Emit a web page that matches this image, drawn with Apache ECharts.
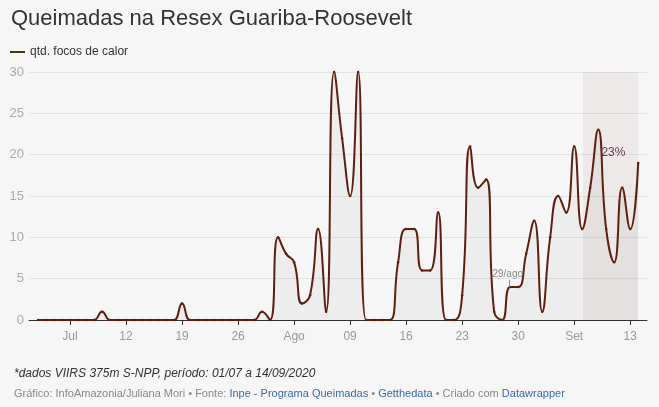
<!DOCTYPE html>
<html>
<head>
<meta charset="utf-8">
<script src="https://cdn.jsdelivr.net/npm/echarts@6/dist/echarts.min.js"></script>
<style>
  html, body { margin: 0; padding: 0; background: #f6f6f6; }
  #chart { width: 659px; height: 407px; }
</style>
</head>
<body>
<div id="chart"></div>
<script>
// focos de calor por dia, 01/07 a 14/09/2020
const julho = [0, 0, 0, 0, 0, 0, 0, 0, 1, 0, 0, 0, 0, 0, 0, 0, 0, 0, 2, 0,
  0, 0, 0, 0, 0, 0, 0, 0, 1, 0, 10];
const agosto = [8, 7, 2, 3, 11, 1, 30, 22, 15, 30, 0, 0, 0, 0, 7, 11, 11, 6, 6, 13,
  0, 0, 3, 21, 16, 17, 1, 0, 4, 4, 8];
const setembro = [12, 1, 10, 15, 13, 21, 11, 16, 23, 11, 7, 16, 11, 19];
const focos = [...julho, ...agosto, ...setembro];

// ticks semanais (indice do dia a partir de 01/07) e seus rotulos
const tickDays = [4, 11, 18, 25, 32, 39, 46, 53, 60, 67, 74];
const tickLabels = ['Jul', '12', '19', '26', 'Ago', '09', '16', '23', '30', 'Set', '13'];

const yTicks = [0, 5, 10, 15, 20, 25, 30];

const font = '"Liberation Sans", Arial, sans-serif';
const lineColor = '#5e1f10';

const chart = echarts.init(document.getElementById('chart'));

// rotulo de anotacao sem simbolo visivel
const nota = (coord, text, color, size) => ({
  coord: coord,
  symbol: 'circle',
  symbolSize: 1,
  itemStyle: { color: 'rgba(0,0,0,0)' },
  label: { show: true, position: 'inside', formatter: text, color: color, fontSize: size, fontFamily: font }
});

const option = {
  backgroundColor: '#f6f6f6',
  animation: false,
  textStyle: { fontFamily: font },
  title: [
    {
      text: 'Queimadas na Resex Guariba-Roosevelt',
      left: 6, top: 3,
      textStyle: { fontFamily: font, fontSize: 22, fontWeight: 'normal', color: '#333' }
    },
    {
      text: '*dados VIIRS 375m S-NPP, período: 01/07 a 14/09/2020',
      left: 9, top: 363,
      textStyle: { fontFamily: font, fontSize: 12, fontStyle: 'italic', fontWeight: 'normal', color: '#333' }
    },
    {
      text: '{a|Gráfico: InfoAmazonia/Juliana Mori • Fonte: }{b|Inpe - Programa Queimadas}{a| • }{b|Getthedata}{a| • Criado com }{b|Datawrapper}',
      left: 9, top: 383,
      textStyle: {
        fontFamily: font, fontSize: 11, fontWeight: 'normal',
        rich: {
          a: { fontFamily: font, fontSize: 11, color: '#888' },
          b: { fontFamily: font, fontSize: 11, color: '#3a68b0' }
        }
      }
    }
  ],
  legend: {
    left: 5, top: 41,
    icon: 'rect', itemWidth: 15, itemHeight: 2, itemGap: 6,
    textStyle: { fontFamily: font, fontSize: 12, color: '#333' },
    data: [{ name: 'qtd. focos de calor', itemStyle: { color: '#4a3411' } }]
  },
  grid: { left: 29, right: 12, top: 72, bottom: 87 },
  xAxis: {
    type: 'value',
    min: -1.125,
    max: 76.1,
    axisLine: { show: true, onZero: false, lineStyle: { color: '#333', width: 1 } },
    axisTick: {
      show: true, length: 5, customValues: tickDays,
      lineStyle: { color: '#333' }
    },
    axisLabel: {
      customValues: tickDays,
      formatter: v => tickLabels[tickDays.indexOf(v)],
      color: '#999', fontSize: 12, margin: 11, fontFamily: font
    },
    splitLine: { show: false }
  },
  yAxis: {
    type: 'value',
    min: 0, max: 30,
    axisLine: { show: false },
    axisTick: { show: false },
    axisLabel: {
      customValues: yTicks,
      color: '#aaa', fontSize: 13, margin: 5, fontFamily: font
    },
    splitLine: { lineStyle: { color: '#e4e4e4', width: 1 } }
  },
  series: [{
    name: 'qtd. focos de calor',
    type: 'line',
    data: focos.map((v, i) => [i, v]),
    smooth: 0.5,
    symbol: 'circle',
    symbolSize: 2.5,
    showSymbol: true,
    itemStyle: { color: lineColor },
    lineStyle: { color: lineColor, width: 2 },
    areaStyle: { color: 'rgba(0,0,0,0.05)' },
    z: 3,
    markArea: {
      silent: true,
      itemStyle: { color: 'rgba(140,70,70,0.07)' },
      data: [[{ xAxis: 68.1 }, { xAxis: 75 }]]
    },
    markPoint: {
      silent: true,
      data: [
        nota([71.9, 20.2], '23%', '#6e3447', 12),
        nota([58.7, 5.55], '29/ago', '#888', 10)
      ]
    },
    markLine: {
      silent: true,
      symbol: 'none',
      label: { show: false },
      lineStyle: { color: '#888', type: 'solid', width: 1 },
      data: [[{ coord: [58.85, 4.0] }, { coord: [58.85, 4.85] }]]
    }
  }]
};

chart.setOption(option);
</script>
</body>
</html>
